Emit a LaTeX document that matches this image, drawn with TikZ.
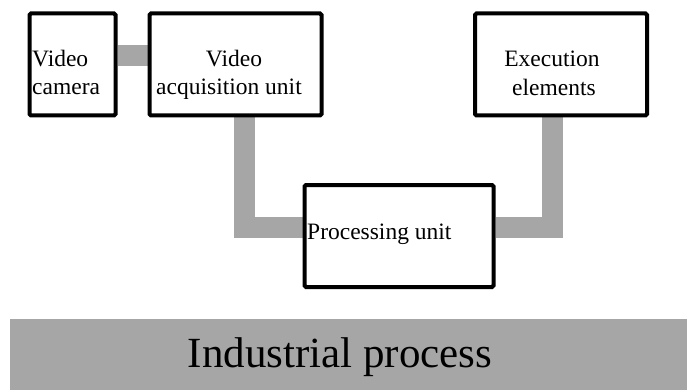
\documentclass[tikz,border=0pt]{standalone}
\usepackage{fontspec}
\setmainfont{Liberation Serif}
\usetikzlibrary{backgrounds}
\definecolor{linkgray}{HTML}{A6A6A6}
\begin{document}
\begin{tikzpicture}[x=1pt,y=-1pt,
  unitbox/.style={draw=black, line width=4pt, fill=white, rounded corners=1.5pt,
    inner sep=0pt, minimum height=102pt},
  link/.style={draw=linkgray, line width=21pt, line cap=butt, line join=miter},
  lbl/.style={inner sep=0pt, font=\fontsize{23.5}{28}\selectfont},
  bigl/.style={inner sep=0pt, font=\fontsize{43}{50}\selectfont}]
\useasboundingbox (0,0) rectangle (687,390);

% process band along the bottom
\fill[linkgray] (10,319) rectangle (687,390);
\node[bigl, anchor=base] (proctext) at (340,367) {Industrial process};

% unit boxes
\node[unitbox, minimum width=86pt] (cam) at (72.5,64.5) {};
\node[unitbox, minimum width=172pt] (acq) at (235.5,64.5) {};
\node[unitbox, minimum width=172pt] (exe) at (561,64.5) {};
\node[unitbox, minimum width=189pt] (proc) at (399,236) {};

% links between the units, kept behind the boxes
\coordinate (lcorner) at (244,227);
\coordinate (rcorner) at (552.5,227);
\begin{scope}[on background layer]
\path[link] (cam.east |- 0,55.5) -- (acq.west |- 0,55.5);
\path[link] (acq.south -| lcorner) -- (lcorner) -- (proc.west |- lcorner);
\path[link] (exe.south -| rcorner) -- (rcorner) -- (proc.east |- rcorner);
\end{scope}

% box labels
\node[lbl, anchor=base west] (camA) at (32,67) {Video};
\node[lbl, anchor=base west] (camB) at (32,95) {camera};
\node[lbl, anchor=base] (acqA) at (234,67) {Video};
\node[lbl, anchor=base] (acqB) at (229,95) {acquisition unit};
\node[lbl, anchor=base] (exeA) at (552,67) {Execution};
\node[lbl, anchor=base] (exeB) at (554,96) {elements};
\node[lbl, anchor=base west] (procA) at (307,239) {Processing unit};
\end{tikzpicture}
\end{document}
